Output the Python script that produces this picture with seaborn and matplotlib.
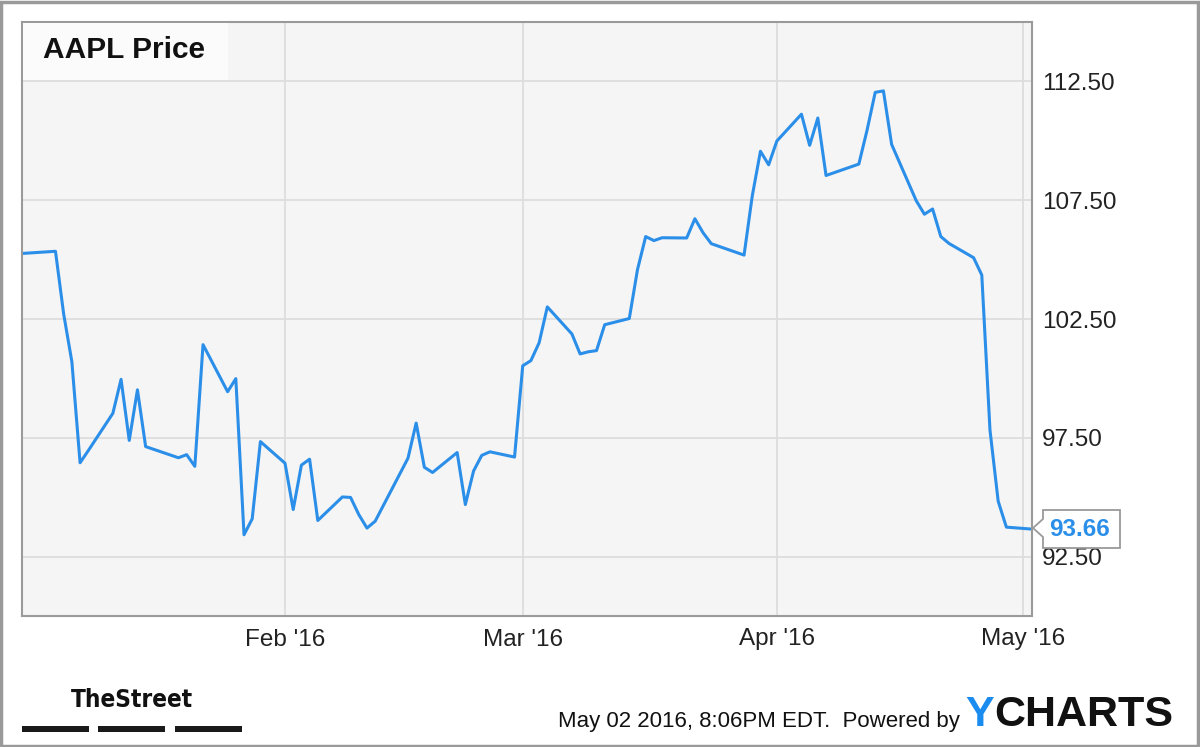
import matplotlib
matplotlib.use("Agg")
import matplotlib.pyplot as plt
import seaborn as sns
import pandas as pd
from matplotlib.patches import Rectangle, Polygon

# ---------------- data ----------------
dates = [
    "2015-12-31", "2016-01-04", "2016-01-05", "2016-01-06", "2016-01-07", "2016-01-08",
    "2016-01-11", "2016-01-12", "2016-01-13", "2016-01-14", "2016-01-15",
    "2016-01-19", "2016-01-20", "2016-01-21", "2016-01-22",
    "2016-01-25", "2016-01-26", "2016-01-27", "2016-01-28", "2016-01-29",
    "2016-02-01", "2016-02-02", "2016-02-03", "2016-02-04", "2016-02-05",
    "2016-02-08", "2016-02-09", "2016-02-10", "2016-02-11", "2016-02-12",
    "2016-02-16", "2016-02-17", "2016-02-18", "2016-02-19",
    "2016-02-22", "2016-02-23", "2016-02-24", "2016-02-25", "2016-02-26",
    "2016-02-29", "2016-03-01", "2016-03-02", "2016-03-03", "2016-03-04",
    "2016-03-07", "2016-03-08", "2016-03-09", "2016-03-10", "2016-03-11",
    "2016-03-14", "2016-03-15", "2016-03-16", "2016-03-17", "2016-03-18",
    "2016-03-21", "2016-03-22", "2016-03-23", "2016-03-24",
    "2016-03-28", "2016-03-29", "2016-03-30", "2016-03-31", "2016-04-01",
    "2016-04-04", "2016-04-05", "2016-04-06", "2016-04-07", "2016-04-08",
    "2016-04-11", "2016-04-12", "2016-04-13", "2016-04-14", "2016-04-15",
    "2016-04-18", "2016-04-19", "2016-04-20", "2016-04-21", "2016-04-22",
    "2016-04-25", "2016-04-26", "2016-04-27", "2016-04-28", "2016-04-29",
    "2016-05-02",
]
prices = [
    105.26, 105.35, 102.71, 100.70, 96.45, 96.96,
    98.53, 99.96, 97.39, 99.52, 97.13,
    96.66, 96.79, 96.30, 101.42,
    99.44, 99.99, 93.42, 94.09, 97.34,
    96.43, 94.48, 96.35, 96.60, 94.02,
    95.01, 94.99, 94.27, 93.70, 93.99,
    96.64, 98.12, 96.26, 96.04,
    96.88, 94.69, 96.10, 96.76, 96.91,
    96.69, 100.53, 100.75, 101.50, 103.01,
    101.87, 101.03, 101.12, 101.17, 102.26,
    102.52, 104.58, 105.97, 105.80, 105.92,
    105.91, 106.72, 106.13, 105.67,
    105.19, 107.68, 109.56, 108.99, 109.99,
    111.12, 109.81, 110.96, 108.54, 108.66,
    109.02, 110.44, 112.04, 112.10, 109.85,
    107.48, 106.91, 107.13, 105.97, 105.68,
    105.08, 104.35, 97.82, 94.83, 93.74,
    93.66,
]
y_ticks = [92.50, 97.50, 102.50, 107.50, 112.50]
x_tick_dates = ["2016-02-01", "2016-03-01", "2016-04-01", "2016-05-01"]
x_tick_labels = ["Feb '16", "Mar '16", "Apr '16", "May '16"]
title_text = "AAPL Price"
last_label = "93.66"
footer_text = "May 02 2016, 8:06PM EDT.  Powered by"

# ---------------- style ----------------
sns.set_theme(style="white")
plt.rcParams['font.family'] = ['Liberation Sans', 'DejaVu Sans']

W, H = 1200, 747
fig = plt.figure(figsize=(W / 100, H / 100), dpi=100)
fig.patch.set_facecolor("white")

def fx(px):
    return px / W

def fy(py):
    return 1 - py / H

LINE = "#2b8fe9"

ax = fig.add_axes([fx(22), fy(616), 1010 / W, 594 / H])
ax.set_facecolor("#f5f5f5")

df = pd.DataFrame({"date": pd.to_datetime(dates), "price": prices})
sns.lineplot(data=df, x="date", y="price", ax=ax, color=LINE, linewidth=2.2)

ax.set_xlim(pd.Timestamp("2015-12-30 22:00"), pd.Timestamp("2016-05-02 03:00"))
ax.set_ylim(90, 115)
ax.yaxis.tick_right()
ax.set_yticks(y_ticks)
ax.set_yticklabels([f"{v:.2f}" for v in y_ticks])
ax.set_xticks(pd.to_datetime(x_tick_dates))
ax.set_xticklabels(x_tick_labels)
ax.set_xlabel("")
ax.set_ylabel("")
ax.grid(True, color="#dddddd", linewidth=1.3)
ax.tick_params(axis="both", length=0, labelsize=17.5, colors="#222222")
ax.tick_params(axis="y", pad=7)
ax.tick_params(axis="x", pad=9)
for s in ax.spines.values():
    s.set_color("#9a9a9a")
    s.set_linewidth(1.5)

# title box inside the plot
fig.patches.append(Rectangle((fx(23), fy(80)), 205 / W, 57 / H, transform=fig.transFigure,
                             facecolor="#fbfbfb", edgecolor="none", zorder=3))
fig.text(fx(43), fy(50), title_text, fontsize=21.5, fontweight="bold", color="#111111",
         va="center", ha="left", zorder=4)

# last value callout
yl = fy(528)
box = Polygon([(fx(1033), yl), (fx(1043), fy(519)), (fx(1043), fy(510)), (fx(1120), fy(510)),
               (fx(1120), fy(548)), (fx(1043), fy(548)), (fx(1043), fy(537))],
              closed=True, transform=fig.transFigure, facecolor="white", edgecolor="#9a9a9a",
              lw=1.3, zorder=5)
fig.patches.append(box)
fig.text(fx(1080), fy(529), last_label, fontsize=17.5, fontweight="bold", color=LINE,
         ha="center", va="center", zorder=6)

# outer border
fig.patches.append(Rectangle((0.001, 0.002), 0.997, 0.995, transform=fig.transFigure,
                             fill=False, edgecolor="#9a9a9a", lw=2.5))

# TheStreet logo
fig.text(fx(132), fy(700), "TheStreet", fontsize=17.5, fontweight="bold", color="#111111",
         ha="center", va="center", family="DejaVu Sans", fontstretch="condensed")
for x0, x1 in [(22, 89), (98, 165), (175, 242)]:
    fig.patches.append(Rectangle((fx(x0), fy(732)), (x1 - x0) / W, 6 / H,
                                 transform=fig.transFigure, facecolor="#1a1a1a", edgecolor="none"))

# footer
fig.text(fx(558), fy(727), footer_text, fontsize=16, color="#111111", ha="left",
         va="baseline")
ty = fig.text(fx(965), fy(726), "Y", fontsize=31, fontweight="bold", color="#1a8cf0",
              ha="left", va="baseline")
fig.canvas.draw()
bb = ty.get_window_extent()
fig.text(bb.x1 / W + 1 / W, fy(726), "CHARTS", fontsize=31, fontweight="bold",
         color="#111111", ha="left", va="baseline")

fig.savefig("out.png", dpi=100)
